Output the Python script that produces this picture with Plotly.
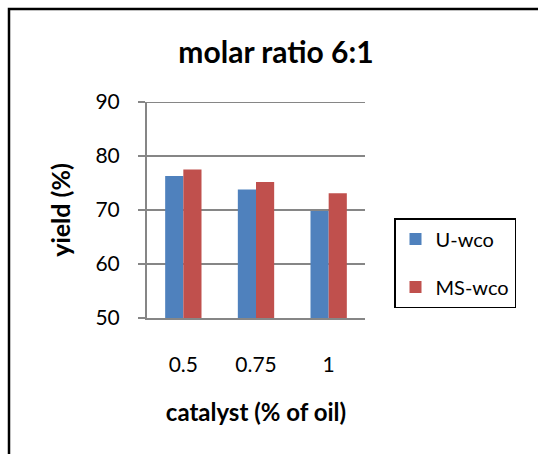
import plotly.graph_objects as go

# Catalyst loading (% of oil) and biodiesel yield (%) at molar ratio 6:1
catalyst = ["0.5", "0.75", "1"]
u_wco = [76.3, 73.8, 69.8]
ms_wco = [77.5, 75.2, 73.1]
y_ticks = [50, 60, 70, 80, 90]

FONT = "Lato, 'Open Sans', sans-serif"
GRID = "#868686"
W, H = 538, 454
L, R, T, B = 147, 365, 102, 318  # plot area in pixels


def px_x(p):
    return (p - L) / (R - L)


def px_y(p):
    return (B - p) / (B - T)


fig = go.Figure()
fig.add_trace(go.Bar(x=catalyst, y=u_wco, name="U-wco", marker_color="#4F81BD",
                     marker_line_width=0, legendgroup="a"))
fig.add_trace(go.Bar(x=catalyst, y=ms_wco, name="MS-wco", marker_color="#C0504D",
                     marker_line_width=0, legendgroup="b"))

fig.update_layout(
    width=W, height=H,
    margin=dict(l=L, r=W - R, t=T, b=H - B, pad=0),
    paper_bgcolor="white", plot_bgcolor="white",
    barmode="group", bargap=0.5, bargroupgap=0,
    font=dict(family=FONT, color="black", size=21),
    title=dict(text="<b>molar ratio 6:1</b>", x=276 / W, xanchor="center",
               y=1 - 52 / H, yanchor="middle", font=dict(size=30)),
    showlegend=True,
    legend=dict(x=px_x(394), xanchor="left", y=px_y(218), yanchor="top",
                bordercolor="black", borderwidth=1.5, bgcolor="white",
                font=dict(size=20), tracegroupgap=19, traceorder="grouped",
                itemwidth=30),
)

fig.update_yaxes(
    range=[y_ticks[0], y_ticks[-1]], tickvals=y_ticks,
    ticktext=[str(v) for v in y_ticks],
    showgrid=True, gridcolor=GRID, gridwidth=2,
    showline=True, linecolor=GRID, linewidth=2,
    ticks="outside", ticklen=7, tickcolor=GRID, tickwidth=2,
    ticklabelstandoff=14, zeroline=False,
    title=dict(text="<b>yield (%)</b>", font=dict(size=25), standoff=18),
)
fig.update_xaxes(
    showline=True, linecolor=GRID, linewidth=2,
    ticks="", ticklabelstandoff=27,
    title=dict(text="<b>catalyst (% of oil)</b>", font=dict(size=24), standoff=29),
)

# top gridline sits on the plot edge, so draw it explicitly
fig.add_shape(type="line", xref="paper", yref="y", x0=0, x1=1,
              y0=y_ticks[-1], y1=y_ticks[-1], line=dict(color=GRID, width=2))

# Chart frame, running off the right and bottom edges
fig.add_shape(type="path", xref="paper", yref="paper",
              path=f"M {px_x(9)},{px_y(460)} L {px_x(9)},{px_y(9)} L {px_x(545)},{px_y(9)}",
              line=dict(color="black", width=2.5))

fig.write_html("out.html")
